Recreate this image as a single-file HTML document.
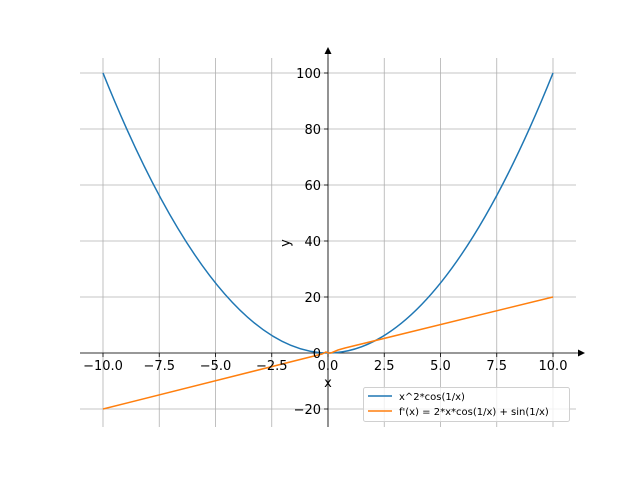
<!DOCTYPE html>
<html><head><meta charset="utf-8"><style>
html,body{margin:0;padding:0;background:#fff;}
svg{display:block;font-family:"DejaVu Sans","Liberation Sans",sans-serif;}
</style></head><body>
<svg width="640" height="480" viewBox="0 0 640 480" xmlns="http://www.w3.org/2000/svg">
<rect width="640" height="480" fill="#fff"/>
<g stroke="#b0b0b0" stroke-width="0.8">
<line x1="103" y1="58" x2="103" y2="427"/>
<line x1="159.25" y1="58" x2="159.25" y2="427"/>
<line x1="215.5" y1="58" x2="215.5" y2="427"/>
<line x1="271.75" y1="58" x2="271.75" y2="427"/>
<line x1="328" y1="58" x2="328" y2="427"/>
<line x1="384.25" y1="58" x2="384.25" y2="427"/>
<line x1="440.5" y1="58" x2="440.5" y2="427"/>
<line x1="496.75" y1="58" x2="496.75" y2="427"/>
<line x1="553" y1="58" x2="553" y2="427"/>
<line x1="80" y1="73" x2="576" y2="73"/>
<line x1="80" y1="129" x2="576" y2="129"/>
<line x1="80" y1="185" x2="576" y2="185"/>
<line x1="80" y1="241" x2="576" y2="241"/>
<line x1="80" y1="297" x2="576" y2="297"/>
<line x1="80" y1="353" x2="576" y2="353"/>
<line x1="80" y1="409" x2="576" y2="409"/>
</g>
<g stroke="#000" stroke-width="0.8">
<line x1="80" y1="353" x2="580" y2="353"/>
<line x1="328" y1="427" x2="328" y2="52"/>
<line x1="103" y1="353" x2="103" y2="357"/>
<line x1="159.25" y1="353" x2="159.25" y2="357"/>
<line x1="215.5" y1="353" x2="215.5" y2="357"/>
<line x1="271.75" y1="353" x2="271.75" y2="357"/>
<line x1="328" y1="353" x2="328" y2="357"/>
<line x1="384.25" y1="353" x2="384.25" y2="357"/>
<line x1="440.5" y1="353" x2="440.5" y2="357"/>
<line x1="496.75" y1="353" x2="496.75" y2="357"/>
<line x1="553" y1="353" x2="553" y2="357"/>
<line x1="324" y1="73" x2="328" y2="73"/>
<line x1="324" y1="129" x2="328" y2="129"/>
<line x1="324" y1="185" x2="328" y2="185"/>
<line x1="324" y1="241" x2="328" y2="241"/>
<line x1="324" y1="297" x2="328" y2="297"/>
<line x1="324" y1="353" x2="328" y2="353"/>
<line x1="324" y1="409" x2="328" y2="409"/>
</g>
<polygon points="585,353 578,349.5 578,356.5" fill="#000"/>
<polygon points="328,47 324.5,54 331.5,54" fill="#000"/>
<path d="M103,73 Q215.5,353 328,353 Q440.5,353 553,73" fill="none" stroke="#1f77b4" stroke-width="1.5"/>
<polyline points="103,409 322,354 326,352 328,353 331,353 338,350 345,348 553,297" fill="none" stroke="#ff7f0e" stroke-width="1.5"/>
<g font-size="13" fill="#000" text-anchor="middle">
<text x="103" y="370">−10.0</text>
<text x="159.25" y="370">−7.5</text>
<text x="215.5" y="370">−5.0</text>
<text x="271.75" y="370">−2.5</text>
<text x="328" y="370">0.0</text>
<text x="384.25" y="370">2.5</text>
<text x="440.5" y="370">5.0</text>
<text x="496.75" y="370">7.5</text>
<text x="553" y="370">10.0</text>
<text x="328" y="387">x</text>
</g>
<g font-size="13" fill="#000" text-anchor="end">
<text x="321" y="78">100</text>
<text x="321" y="134">80</text>
<text x="321" y="190">60</text>
<text x="321" y="246">40</text>
<text x="321" y="302">20</text>
<text x="321" y="358">0</text>
<text x="321" y="414">−20</text>
</g>
<text x="286" y="243" font-size="13" text-anchor="middle" transform="rotate(-90 286 243)" dominant-baseline="middle">y</text>
<rect x="363.5" y="387.5" width="206" height="34" rx="2" fill="#fff" fill-opacity="0.8" stroke="#d0d0d0"/>
<line x1="368" y1="396" x2="392" y2="396" stroke="#1f77b4" stroke-width="1.5"/>
<line x1="368" y1="411" x2="392" y2="411" stroke="#ff7f0e" stroke-width="1.5"/>
<g font-size="10" fill="#000">
<text x="399" y="400">x^2*cos(1/x)</text>
<text x="399" y="415">f'(x) = 2*x*cos(1/x) + sin(1/x)</text>
</g>
</svg>
</body></html>
